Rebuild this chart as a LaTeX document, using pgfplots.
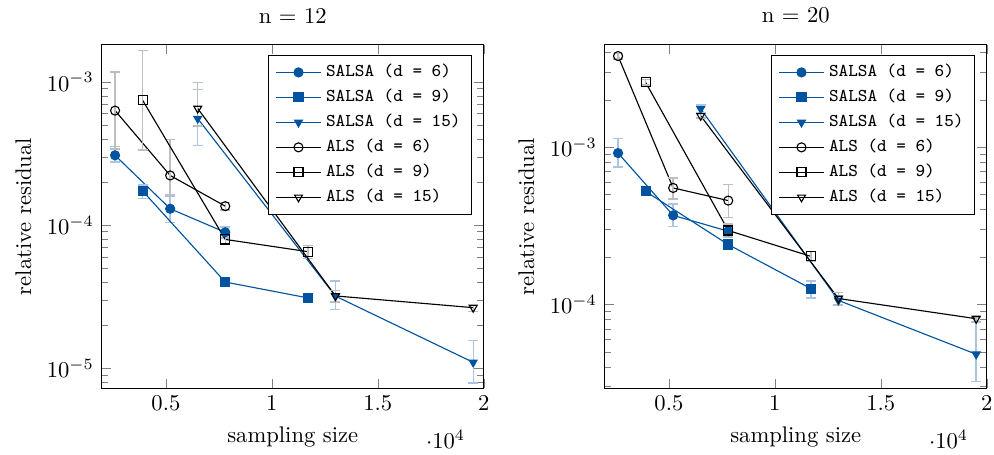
\documentclass[border=0pt]{standalone}
\usepackage{pgfplots}
\pgfplotsset{compat=1.18}
\definecolor{salsablue}{RGB}{0,84,159}
\definecolor{salsaerr}{RGB}{170,196,226}
\definecolor{alserr}{RGB}{190,190,190}
\pgfplotsset{
  salsaplot/.style={
    color=salsablue, line width=0.5pt, mark options={solid, fill=salsablue},
    error bars/y dir=both, error bars/y explicit,
    error bars/error bar style={color=salsaerr, line width=0.6pt},
    error bars/error mark options={rotate=90, mark size=2.2pt, color=salsaerr, line width=0.6pt},
  },
  alsplot/.style={
    color=black, line width=0.5pt, mark options={solid},
    error bars/y dir=both, error bars/y explicit,
    error bars/error bar style={color=alserr, line width=0.6pt},
    error bars/error mark options={rotate=90, mark size=2.2pt, color=alserr, line width=0.6pt},
  },
  every axis/.append style={
    legend image code/.code={
      \draw[mark repeat=2, mark phase=2] plot coordinates {(0cm,0cm) (0.35cm,0cm) (0.7cm,0cm)};
    },
  },
}
\begin{document}
\begin{tikzpicture}
% n = 12
\begin{axis}[name=left,
  scale only axis, width=169pt, height=152pt,
  ymode=log, xmin=1970, xmax=20000,
  xtick={5000,10000,15000,20000},
  xlabel={sampling size}, ylabel={relative residual},
  legend pos=north east,
  legend style={font=\footnotesize\ttfamily},
  legend cell align=left,
  title={n = 12}, ymin=7.25e-6, ymax=1.82e-3]
\addplot[salsaplot, mark=*] coordinates {
  (2600,3.07e-4) += (0,0.45e-4) -= (0,0.32e-4)
  (5200,1.30e-4) += (0,0.32e-4) -= (0,0.26e-4)
  (7800,8.9e-5)  += (0,0.8e-5)  -= (0,0.8e-5)
};
\addplot[salsaplot, mark=square*] coordinates {
  (3900,1.73e-4)  += (0,0.17e-4) -= (0,0.2e-4)
  (7800,4.0e-5)   += (0,0.2e-5)  -= (0,0.2e-5)
  (11700,3.1e-5)  += (0,0.15e-5) -= (0,0.15e-5)
};
\addplot[salsaplot, mark=triangle*, mark options={rotate=180}] coordinates {
  (6500,5.54e-4)  += (0,3.3e-4)  -= (0,1.95e-4)
  (13000,3.19e-5) += (0,0.87e-5) -= (0,0.61e-5)
  (19500,1.10e-5) += (0,0.47e-5) -= (0,0.31e-5)
};
\addplot[alsplot, mark=o] coordinates {
  (2600,6.3e-4)   += (0,5.4e-4)  -= (0,2.9e-4)
  (5200,2.22e-4)  += (0,1.73e-4) -= (0,0.63e-4)
  (7800,1.355e-4) += (0,0.08e-4) -= (0,0.08e-4)
};
\addplot[alsplot, mark=square] coordinates {
  (3900,7.44e-4)  += (0,9.2e-4)  -= (0,4.1e-4)
  (7800,7.94e-5)  += (0,0.6e-5)  -= (0,0.6e-5)
  (11700,6.52e-5) += (0,0.7e-5)  -= (0,0.7e-5)
};
\addplot[alsplot, mark=triangle, mark options={rotate=180}] coordinates {
  (6500,6.52e-4)  += (0,3.4e-4)  -= (0,1.6e-4)
  (13000,3.2e-5)  += (0,0.3e-5)  -= (0,0.3e-5)
  (19500,2.65e-5) += (0,0.15e-5) -= (0,0.15e-5)
};
\legend{SALSA (d = 6), SALSA (d = 9), SALSA (d = 15), ALS (d = 6), ALS (d = 9), ALS (d = 15)}
\end{axis}
% n = 20
\begin{axis}[name=right,
  xshift=222.5pt,
  scale only axis, width=169pt, height=152pt,
  ymode=log, xmin=1970, xmax=20000,
  xtick={5000,10000,15000,20000},
  xlabel={sampling size}, ylabel={relative residual},
  legend pos=north east,
  legend style={font=\footnotesize\ttfamily},
  legend cell align=left,
  title={n = 20}, ymin=2.93e-5, ymax=4.48e-3]
\addplot[salsaplot, mark=*] coordinates {
  (2600,9.16e-4) += (0,2.2e-4)  -= (0,1.7e-4)
  (5200,3.68e-4) += (0,0.67e-4) -= (0,0.54e-4)
  (7800,2.92e-4) += (0,0.2e-4)  -= (0,0.2e-4)
};
\addplot[salsaplot, mark=square*] coordinates {
  (3900,5.23e-4)  += (0,0.2e-4)  -= (0,0.2e-4)
  (7800,2.40e-4)  += (0,0.15e-4) -= (0,0.15e-4)
  (11700,1.26e-4) += (0,0.15e-4) -= (0,0.16e-4)
};
\addplot[salsaplot, mark=triangle*, mark options={rotate=180}] coordinates {
  (6500,1.75e-3)  += (0,0.1e-3)  -= (0,0.1e-3)
  (13000,1.06e-4) += (0,0.08e-4) -= (0,0.08e-4)
  (19500,4.82e-5) += (0,3.4e-5)  -= (0,1.6e-5)
};
\addplot[alsplot, mark=o] coordinates {
  (2600,3.79e-3) += (0,0.15e-3) -= (0,0.15e-3)
  (5200,5.5e-4)  += (0,0.86e-4) -= (0,0.82e-4)
  (7800,4.57e-4) += (0,1.2e-4)  -= (0,1.0e-4)
};
\addplot[alsplot, mark=square] coordinates {
  (3900,2.58e-3)  += (0,0.1e-3)  -= (0,0.1e-3)
  (7800,2.95e-4)  += (0,0.3e-4)  -= (0,0.3e-4)
  (11700,2.02e-4) += (0,0.15e-4) -= (0,0.15e-4)
};
\addplot[alsplot, mark=triangle, mark options={rotate=180}] coordinates {
  (6500,1.58e-3)  += (0,0.05e-3) -= (0,0.05e-3)
  (13000,1.09e-4) += (0,0.1e-4)  -= (0,0.1e-4)
  (19500,8.11e-5) += (0,0.4e-5)  -= (0,0.4e-5)
};
\legend{SALSA (d = 6), SALSA (d = 9), SALSA (d = 15), ALS (d = 6), ALS (d = 9), ALS (d = 15)}
\end{axis}
\coordinate (bbN) at (current bounding box.north);
\coordinate (bbS) at (current bounding box.south);
\pgfresetboundingbox
\useasboundingbox ([xshift=-45pt]left.south west |- bbS) rectangle ([xshift=3.2pt]right.south east |- bbN);
\end{tikzpicture}
\end{document}
